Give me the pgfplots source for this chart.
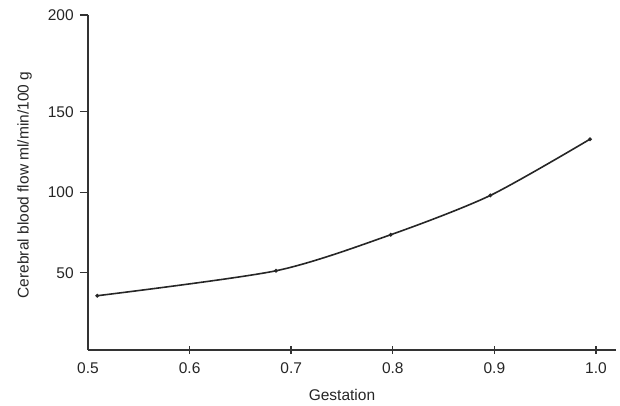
\documentclass[border=0pt]{standalone}
\usepackage{fontspec}
\setmainfont{Liberation Sans}
\usepackage{pgfplots}
\pgfplotsset{compat=1.18}
\begin{document}
\begin{tikzpicture}
\fontsize{15.5bp}{18bp}\selectfont
\begin{axis}[
  name=ax,
  scale only axis,
  width=528bp, height=335bp,
  xmin=0.5, xmax=1.0197,
  ymin=2, ymax=210.06,
  axis lines*=left,
  axis line style={line width=1.5bp, color=black!80},
  every tick/.style={line width=1.4bp, color=black!80},
  xtick={0.6,0.7,0.8,0.9,1.0},
  xticklabels={0.6,0.7,0.8,0.9,1.0},
  extra x ticks={0.5},
  extra x tick labels={0.5},
  extra x tick style={tick style={draw=none}},
  ytick={50,100,150,210.06},
  yticklabels={50,100,150,200},
  major tick length=8bp,
  xtick align=center,
  ytick align=outside,
  tick label style={font=\fontsize{15.5bp}{18bp}\selectfont, color=black!85},
  /pgf/number format/assume math mode=true,
  xticklabel style={yshift=-3bp},
  yticklabel style={xshift=-1bp},
  xlabel={Gestation},
  ylabel={Cerebral blood flow ml/min/100 g},
  label style={font=\fontsize{15.5bp}{18bp}\selectfont, color=black!85},
  xlabel style={at={(axis description cs:0.481,-0.134)}, anchor=center},
  ylabel style={at={(axis description cs:-0.12,0.4925)}, anchor=center, rotate=0},
  clip=false,
]
\addplot[color=black!85, line width=1.6bp, smooth, tension=0.45,
  mark=*, mark size=1bp, mark options={solid, fill=black!85}]
  coordinates {
  (0.509,35.7)
  (0.685,51.2)
  (0.798,73.6)
  (0.896,98.0)
  (0.994,132.9)
  };
\end{axis}
\path (ax.south west) ++(-88bp,-54bp) rectangle ++(620bp,404bp);
\end{tikzpicture}
\end{document}
